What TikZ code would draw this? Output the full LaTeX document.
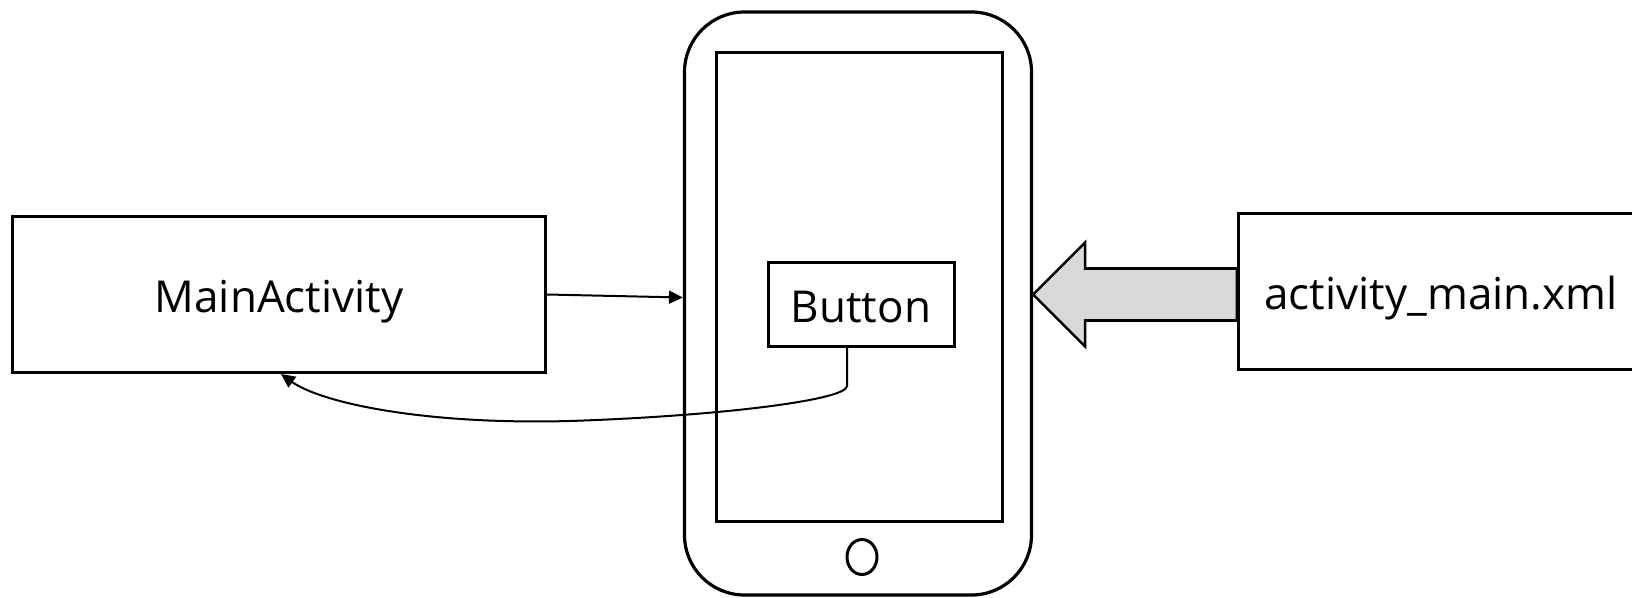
\documentclass[tikz,border=0pt]{standalone}
\usepackage{fontspec}
\setmainfont{Open Sans}
\usetikzlibrary{arrows.meta,calc,shapes.geometric,backgrounds}
\definecolor{arrowgray}{HTML}{D9D9D9}
\tikzset{
  box/.style={draw=black, line width=3pt, rectangle, inner sep=0pt, text height=35pt, text depth=0pt, font=\fontsize{44}{50}\selectfont},
  conn/.style={draw=black, line width=2pt, -{Triangle[length=14pt,width=13pt]}},
  frame/.style={draw=black, line width=3.2pt}
}
\begin{document}
\begin{tikzpicture}[x=1pt,y=-1pt]
\useasboundingbox (0,0) rectangle (1632,597);
\clip (0,0) rectangle (1632,597);
% phone
\node[frame, rounded corners=60pt, minimum width=347pt, minimum height=583pt] (phone) at (858,303.5) {};
\node[frame, line width=3pt, minimum width=286pt, minimum height=469pt] (screen) at (859,286.5) {};
\node[frame, line width=3pt, ellipse, minimum width=30pt, minimum height=35pt, inner sep=0pt] (home) at (862,557) {};
% nodes
\node[box, minimum width=533pt, minimum height=156pt] (ma) at (279,294.5) {MainActivity};
\node[box, minimum width=186pt, minimum height=84pt] (btn) at (861,304.5) {Button};
\node[box, minimum width=405pt, minimum height=156pt] (xml) at (1441,291.5) {activity\_main.xml};
% arrow MainActivity -> phone
\draw[conn] (ma.east) -- ($(phone.west)+(0,-6)$);
% curved arrow Button -> MainActivity
\draw[conn] ($(btn.south)+(-14,0)$) -- ++(0,38) .. controls +(0,14) and (720,416) .. (570,421) .. controls (420,425) and (320,402) .. ($(ma.south)+(2,0)$);
% block arrow xml -> phone
\coordinate (tip) at ($(phone.east)+(0,-9)$);
\coordinate (tail) at (tip -| xml.west);
\begin{scope}[on background layer]
\draw[line width=2.6pt, fill=arrowgray, line join=miter]
  (tip) -- ($(tip)+(52,-52)$) -- ($(tip)+(52,-26)$) -- ($(tail)+(0,-26)$)
  -- ($(tail)+(0,26)$) -- ($(tip)+(52,26)$) -- ($(tip)+(52,52)$) -- cycle;
\end{scope}
\end{tikzpicture}
\end{document}
